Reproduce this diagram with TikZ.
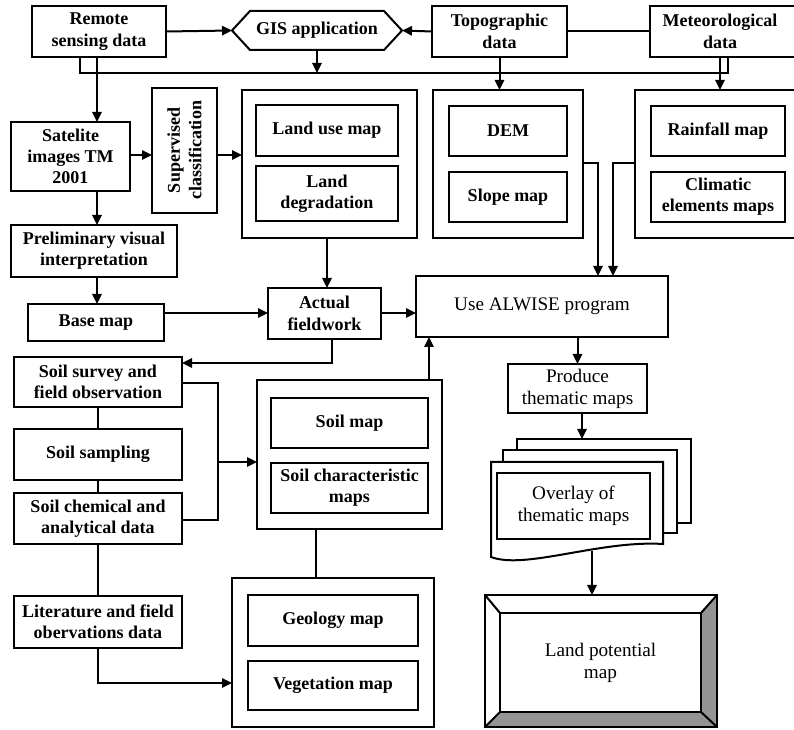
\documentclass[tikz,border=0pt]{standalone}
\usepackage{fontspec}
\setmainfont{Liberation Serif}
\usetikzlibrary{arrows.meta,calc}
\tikzset{
 box/.style={draw, line width=1.5pt, rectangle, inner sep=0pt, outer sep=0pt, align=center, font=\fontsize{13.5}{16}\selectfont\bfseries, fill=white},
 rbox/.style={box, font=\fontsize{14.4}{16.5}\selectfont},
 frame/.style={draw, line width=1.5pt, rectangle, inner sep=0pt, outer sep=0pt},
 txt/.style={inner sep=0pt, outer sep=0pt, align=center, font=\fontsize{13.5}{16}\selectfont\bfseries},
 arr/.style={line width=1.5pt, -{Triangle[length=7.5pt,width=7pt]}},
 ln/.style={line width=1.5pt},
 sheet/.style={draw, line width=1.5pt, fill=white},
}
\newcommand\Bx[7][box]{\node[#1, minimum width={(#5-#3)*0.75pt}, minimum height={(#6-#4)*0.75pt}] (#2) at ({(#3+#5)/2},{(#4+#6)/2}) {#7};}
\begin{document}
\begin{tikzpicture}[x=0.75pt,y=-0.75pt]
\useasboundingbox[fill=white] (0,0) rectangle (794,730);
% top row
\Bx{remote}{32}{6}{166}{57}{Remote\\sensing data}
\draw[ln] (232,30.5) -- (250,11) -- (384,11) -- (402,30.5) -- (384,50) -- (250,50) -- cycle;
\node[txt, minimum width={170*0.75pt}, minimum height={39*0.75pt}] (gis) at (317,30.5) {GIS application};
\Bx{topo}{432}{6}{567}{57}{Topographic\\data}
\Bx{met}{650}{6}{800}{57}{}
\node[txt] (metlbl) at (720,31.5) {Meteorological\\data};
% second row
\Bx{sat}{11}{122}{130}{191}{Satelite\\images TM\\2001}
\node[box, rotate=90, minimum width={125*0.75pt}, minimum height={65*0.75pt}] (sup) at (184.5,150.5) {Supervised\\classification};
\Bx[frame]{luo}{242}{90}{417}{238}{}
\Bx{lu}{256}{105}{398}{156}{Land use map}
\Bx{ld}{256}{166}{398}{221}{Land\\degradation}
\Bx[frame]{demo}{433}{90}{583}{238}{}
\Bx{dem}{449}{106}{567}{156}{DEM}
\Bx{slope}{449}{172}{567}{222}{Slope map}
\Bx[frame]{raino}{635}{90}{800}{238}{}
\Bx{rain}{651}{106}{785}{156}{Rainfall map}
\Bx{clim}{651}{172}{785}{222}{Climatic\\elements maps}
% middle
\Bx{pre}{11}{225}{177}{277}{Preliminary visual\\interpretation}
\Bx{base}{28}{304}{164}{341}{Base map}
\Bx{act}{268}{288}{381}{339}{Actual\\fieldwork}
\Bx[rbox]{use}{416}{276}{668}{337}{Use ALWISE program}
\Bx{survey}{14}{357}{182}{407}{Soil survey and\\field observation}
\Bx{samp}{14}{429}{182}{480}{Soil sampling}
\Bx{chem}{14}{493}{182}{544}{Soil chemical and\\analytical data}
\Bx[frame]{soilo}{257}{380}{442}{529}{}
\Bx{soil}{271}{398}{428}{448}{Soil map}
\Bx{soilc}{271}{463}{428}{513}{Soil characteristic\\maps}
\Bx{lit}{14}{596}{182}{648}{Literature and field\\obervations data}
\Bx[frame]{geoo}{232}{578}{434}{727}{}
\Bx{geo}{248}{595}{418}{646}{Geology map}
\Bx{veg}{248}{661}{418}{710}{Vegetation map}
\Bx[rbox]{prod}{508}{364}{647}{413}{Produce\\thematic maps}
% stacked sheets
\draw[sheet] (517,439) rectangle (691,523);
\draw[sheet] (503,450) rectangle (677,533);
\draw[sheet] (491,462) -- (663,462) -- (663,544) .. controls (600,540) and (525,570) .. (491,557) -- cycle;
\Bx[rbox]{ovl}{497}{473}{650}{539}{Overlay of\\thematic maps}
\coordinate (sheettop) at (582,439);
\coordinate (sheetbot) at (592,551);
% land potential map with bevel
\Bx[frame]{lando}{485}{595}{717}{727}{}
\fill[black!42] (717,595) -- (701,613) -- (701,712) -- (717,727) -- cycle;
\fill[black!42] (485,727) -- (500,712) -- (701,712) -- (717,727) -- cycle;
\draw[ln] (485,595) rectangle (717,727);
\draw[ln] (485,595) -- (500,613) (717,595) -- (701,613) (485,727) -- (500,712) (717,727) -- (701,712);
\Bx[rbox]{land}{500}{613}{701}{712}{Land potential\\map}
% connectors
\draw[arr] (remote.east) -- (gis.west);
\draw[arr] (topo.west) -- (gis.east);
\draw[ln] (topo.east) -- (met.west);
\coordinate (b1) at (80,73);
\coordinate (b2) at (728,73);
\draw[ln] (remote.south -| b1) -- (b1) -- (b2) -- (met.south -| b2);
\draw[arr] (gis.south) -- (gis.south |- b1);
\draw[arr] (topo.south) -- (topo.south |- demo.north);
\draw[arr] (met.south -| 720,0) -- (raino.north -| 720,0);
\draw[arr] (remote.south -| 97,0) -- (sat.north -| 97,0);
\draw[arr] (sat.east |- 0,155) -- (sup.north |- 0,155);
\draw[arr] (sup.south |- 0,155) -- (luo.west |- 0,155);
\draw[arr] (luo.south -| 327,0) -- (act.north -| 327,0);
\draw[arr] (sat.south -| 97,0) -- (pre.north -| 97,0);
\draw[arr] (pre.south -| 97,0) -- (base.north -| 97,0);
\draw[arr] (base.east |- 0,313) -- (act.west |- 0,313);
\draw[arr] (act.east |- 0,313) -- (use.west |- 0,313);
\draw[arr] (demo.east |- 0,163) -| (use.north -| 598,0);
\draw[arr] (raino.west |- 0,163) -| (use.north -| 613,0);
\draw[arr] (act.south -| 332,0) |- (survey.east |- 0,363);
\draw[ln] (survey.south -| 98,0) -- (samp.north -| 98,0);
\draw[ln] (samp.south -| 98,0) -- (chem.north -| 98,0);
\draw[ln] (survey.east |- 0,383) -| (218,462) |- (chem.east |- 0,520);
\draw[arr] (218,462) -- (soilo.west |- 0,462);
\draw[arr] (soilo.north -| 429,0) -- (use.south -| 429,0);
\draw[ln] (soilo.south -| 316,0) -- (geoo.north -| 316,0);
\draw[ln] (chem.south -| 98,0) -- (lit.north -| 98,0);
\draw[arr] (lit.south -| 98,0) |- (geoo.west |- 0,683);
\draw[arr] (prod.north |- use.south) -- (prod.north);
\draw[arr] (prod.south -| sheettop) -- (sheettop);
\draw[arr] (sheetbot) -- (lando.north -| sheetbot);
\end{tikzpicture}
\end{document}
